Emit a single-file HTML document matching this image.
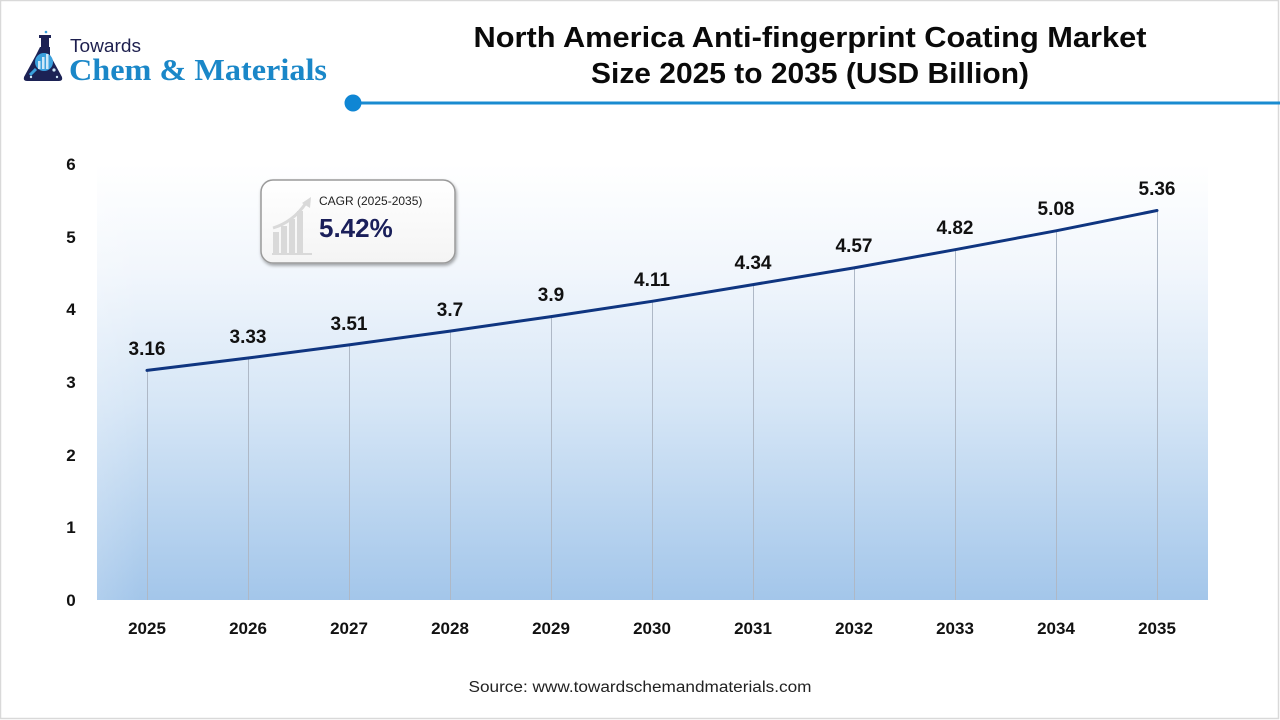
<!DOCTYPE html>
<html>
<head>
<meta charset="utf-8">
<style>
html,body{margin:0;padding:0;background:#fff;}
body{width:1280px;height:720px;overflow:hidden;}
svg{display:block;}
</style>
</head>
<body>
<svg width="1280" height="720" viewBox="0 0 1280 720" xmlns="http://www.w3.org/2000/svg">
  <defs>
    <linearGradient id="bg" x1="0" y1="0" x2="0" y2="1">
      <stop offset="0" stop-color="#ffffff"/>
      <stop offset="0.25" stop-color="#f1f6fc"/>
      <stop offset="0.55" stop-color="#d6e6f6"/>
      <stop offset="1" stop-color="#a3c6ea"/>
    </linearGradient>
    <linearGradient id="fadeR" x1="0" y1="0" x2="1" y2="0">
      <stop offset="0" stop-color="#ffffff" stop-opacity="0.15"/>
      <stop offset="0.04" stop-color="#ffffff" stop-opacity="0"/>
      <stop offset="1" stop-color="#ffffff" stop-opacity="0"/>
    </linearGradient>
    <linearGradient id="boxg" x1="0" y1="0" x2="0" y2="1">
      <stop offset="0" stop-color="#ffffff"/>
      <stop offset="1" stop-color="#f4f4f4"/>
    </linearGradient>
    <filter id="sh" x="-10%" y="-10%" width="130%" height="140%">
      <feDropShadow dx="1" dy="2" stdDeviation="1.5" flood-color="#000" flood-opacity="0.35"/>
    </filter>
  </defs>

  <!-- outer border -->
  <rect x="0.5" y="0.5" width="1278" height="718" fill="none" stroke="#d9d9d9" stroke-width="1.5"/>

  <!-- logo -->
  <g>
    <rect x="39" y="35" width="12" height="3" fill="#1c2255"/>
    <rect x="41" y="38" width="8" height="9" fill="#1c2255"/>
    <path d="M40 47 L50 47 L50 55 L62 77 Q63 81 59 81 L27 81 Q23 81 24 77 L36 55 Z" fill="#1c2255"/>
    <circle cx="44" cy="62" r="9" fill="#3aa0dd"/>
    <rect x="38" y="61" width="2.5" height="8" fill="#cfe8f8"/>
    <rect x="42" y="57" width="2.5" height="12" fill="#cfe8f8"/>
    <rect x="46" y="54" width="2.5" height="15" fill="#cfe8f8"/>
    <line x1="36" y1="69" x2="30" y2="75" stroke="#3aa0dd" stroke-width="3"/>
    <circle cx="54" cy="70" r="1.6" fill="#cfe8f8"/>
    <circle cx="31" cy="77" r="1.2" fill="#cfe8f8"/>
    <circle cx="57" cy="77" r="1.2" fill="#cfe8f8"/>
    <circle cx="46" cy="32" r="1.3" fill="#3aa0dd"/>
  </g>
  <text x="70" y="52" font-family="Liberation Sans, sans-serif" font-size="18" fill="#1d1f4e" textLength="71" lengthAdjust="spacingAndGlyphs">Towards</text>
  <text x="69" y="80" font-family="Liberation Serif, serif" font-size="31" font-weight="bold" fill="#1a87c8" textLength="258" lengthAdjust="spacingAndGlyphs">Chem &amp; Materials</text>

  <!-- title -->
  <text x="810" y="47" text-anchor="middle" font-family="Liberation Sans, sans-serif" font-size="29" font-weight="bold" fill="#0a0a0a" textLength="673" lengthAdjust="spacingAndGlyphs">North America Anti-fingerprint Coating Market</text>
  <text x="810" y="83" text-anchor="middle" font-family="Liberation Sans, sans-serif" font-size="29" font-weight="bold" fill="#0a0a0a" textLength="438" lengthAdjust="spacingAndGlyphs">Size 2025 to 2035 (USD Billion)</text>

  <!-- blue rule -->
  <line x1="353" y1="103" x2="1280" y2="103" stroke="#1a8bd0" stroke-width="3"/>
  <circle cx="353" cy="103" r="8.5" fill="#0f86d4"/>

  <!-- plot area -->
  <rect x="97" y="164" width="1111" height="436" fill="url(#bg)"/>
  <rect x="97" y="164" width="1111" height="436" fill="url(#fadeR)"/>

  <!-- drop lines -->
  <g stroke="#aeb8c6" stroke-width="1">
    <line x1="147.5" y1="370" x2="147.5" y2="600"/>
    <line x1="248.5" y1="358" x2="248.5" y2="600"/>
    <line x1="349.5" y1="345" x2="349.5" y2="600"/>
    <line x1="450.5" y1="331" x2="450.5" y2="600"/>
    <line x1="551.5" y1="317" x2="551.5" y2="600"/>
    <line x1="652.5" y1="301" x2="652.5" y2="600"/>
    <line x1="753.5" y1="285" x2="753.5" y2="600"/>
    <line x1="854.5" y1="268" x2="854.5" y2="600"/>
    <line x1="955.5" y1="250" x2="955.5" y2="600"/>
    <line x1="1056.5" y1="231" x2="1056.5" y2="600"/>
    <line x1="1157.5" y1="211" x2="1157.5" y2="600"/>
  </g>

  <!-- data line -->
  <polyline fill="none" stroke="#0f3580" stroke-width="3" stroke-linejoin="round" stroke-linecap="round"
    points="147,370.4 248,358.0 349,344.9 450,331.1 551,316.6 652,301.3 753,284.6 854,267.9 955,249.7 1056,230.8 1157,210.5"/>

  <!-- data labels -->
  <g font-family="Liberation Sans, sans-serif" font-size="19" font-weight="bold" fill="#111" text-anchor="middle">
    <text x="147" y="355">3.16</text>
    <text x="248" y="343">3.33</text>
    <text x="349" y="330">3.51</text>
    <text x="450" y="316">3.7</text>
    <text x="551" y="301">3.9</text>
    <text x="652" y="286">4.11</text>
    <text x="753" y="269">4.34</text>
    <text x="854" y="252">4.57</text>
    <text x="955" y="234">4.82</text>
    <text x="1056" y="215">5.08</text>
    <text x="1157" y="195">5.36</text>
  </g>

  <!-- y axis labels -->
  <g font-family="Liberation Sans, sans-serif" font-size="17" font-weight="bold" fill="#111" text-anchor="middle">
    <text x="71" y="606">0</text>
    <text x="71" y="533">1</text>
    <text x="71" y="461">2</text>
    <text x="71" y="388">3</text>
    <text x="71" y="315">4</text>
    <text x="71" y="243">5</text>
    <text x="71" y="170">6</text>
  </g>

  <!-- x axis labels -->
  <g font-family="Liberation Sans, sans-serif" font-size="17" font-weight="bold" fill="#111" text-anchor="middle">
    <text x="147" y="634">2025</text>
    <text x="248" y="634">2026</text>
    <text x="349" y="634">2027</text>
    <text x="450" y="634">2028</text>
    <text x="551" y="634">2029</text>
    <text x="652" y="634">2030</text>
    <text x="753" y="634">2031</text>
    <text x="854" y="634">2032</text>
    <text x="955" y="634">2033</text>
    <text x="1056" y="634">2034</text>
    <text x="1157" y="634">2035</text>
  </g>

  <!-- CAGR box -->
  <rect x="261" y="180" width="194" height="83" rx="12" ry="12" fill="url(#boxg)" stroke="#9a9a9a" stroke-width="1.5" filter="url(#sh)"/>
  <g fill="#d9d9d9">
    <rect x="273" y="232" width="6" height="22"/>
    <rect x="281" y="226" width="6" height="28"/>
    <rect x="289" y="219" width="6" height="35"/>
    <rect x="297" y="211" width="6" height="43"/>
    <rect x="272" y="253" width="40" height="2"/>
  </g>
  <path d="M273 228 Q293 222 306 203" fill="none" stroke="#d9d9d9" stroke-width="3"/>
  <path d="M302 203 L311 197 L310 208 Z" fill="#d9d9d9"/>
  <text x="319" y="205" font-family="Liberation Sans, sans-serif" font-size="12" fill="#222">CAGR (2025-2035)</text>
  <text x="319" y="237" font-family="Liberation Sans, sans-serif" font-size="26" font-weight="bold" fill="#1a1f5a">5.42%</text>

  <!-- source -->
  <text x="640" y="692" text-anchor="middle" font-family="Liberation Sans, sans-serif" font-size="15.5" fill="#222" textLength="343" lengthAdjust="spacingAndGlyphs">Source: www.towardschemandmaterials.com</text>
</svg>
</body>
</html>
